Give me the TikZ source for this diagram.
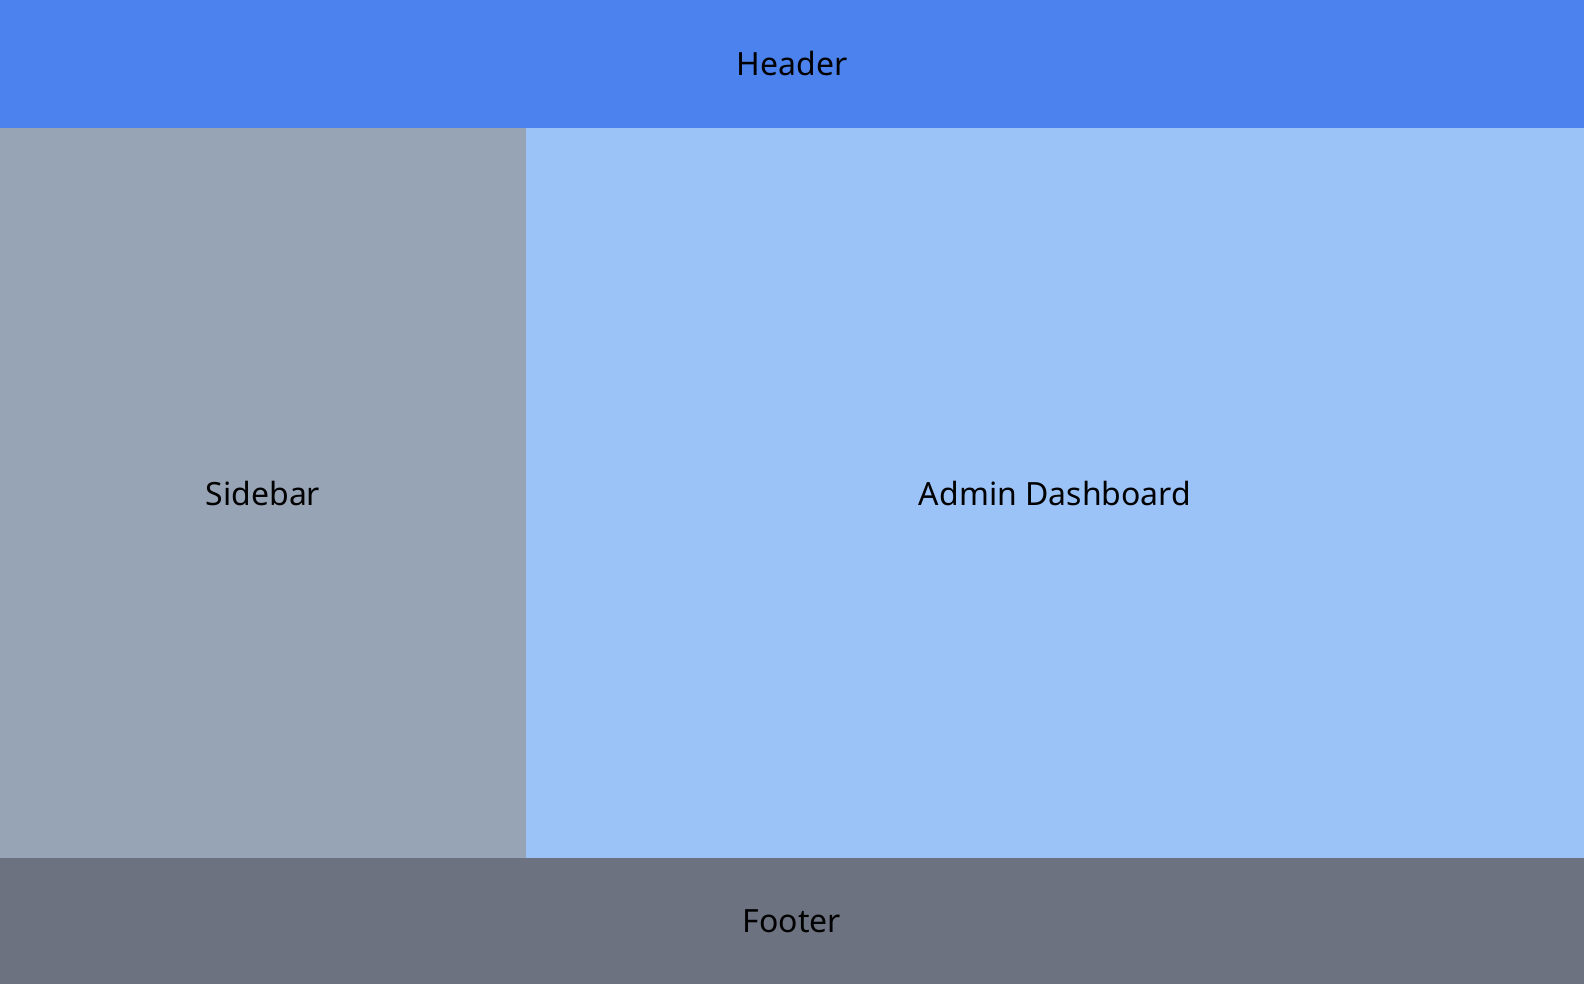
\documentclass[tikz,border=0pt]{standalone}
\usepackage{fontspec}
\setmainfont{Noto Sans}
\definecolor{headblue}{HTML}{4C82EE}
\definecolor{sidegray}{HTML}{97A4B6}
\definecolor{mainblue}{HTML}{9CC3F8}
\definecolor{footgray}{HTML}{6C727F}
\begin{document}
\begin{tikzpicture}[x=0.01cm,y=0.01cm,
    panel/.style={inner sep=0pt,outer sep=0pt,font=\fontsize{9.1pt}{11pt}\selectfont}]
        \useasboundingbox (0,0) rectangle (1584,984);
        \fill[color=headblue] (0,856)--(0,984)--(1584,984)--(1584,856);
        \fill[color=sidegray] (0,126)--(0,856)--(526,856)--(526,126);
        \fill[color=mainblue] (526,126)--(526,856)--(1584,856)--(1584,126);
        \fill[color=footgray] (0,0)--(0,126)--(1584,126)--(1584,0);
        \node[panel] (header) at (792,920){Header};
        \node[panel] (sidebar) at (263,491){Sidebar};
        \node[panel] (main) at (1055,491){Admin Dashboard};
        \node[panel] (footer) at (792,63){Footer};
    \end{tikzpicture}
\end{document}
